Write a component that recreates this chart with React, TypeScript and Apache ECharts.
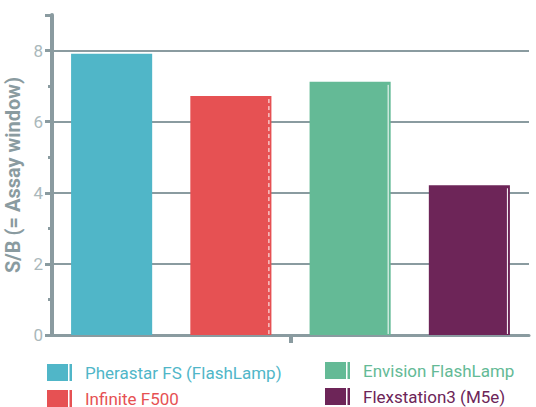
import React, { useEffect, useRef } from "react";
import * as echarts from "echarts";

const categories = [
  "Pherastar FS (FlashLamp)",
  "Infinite F500",
  "Envision FlashLamp",
  "Flexstation3 (M5e)",
];
const values = [7.91, 6.72, 7.12, 4.21];
const colors = ["#50b6c8", "#e65153", "#64ba96", "#6d2558"];
const yMax = 9;
const yInterval = 2;

const FONT = "Roboto, sans-serif";
const AXIS = "#8a9ba0";
const LABEL = "#aab8bb";
const ICON = "path://M0,0H21V17H0Z M22.5,0H25V17H22.5Z";
const legendPos = [
  { left: 47, top: 364 },
  { left: 47, top: 390 },
  { left: 325, top: 362 },
  { left: 325, top: 388 },
];

export default function App() {
  const ref = useRef<HTMLDivElement>(null);
  useEffect(() => {
    if (!ref.current) return;
    const chart = echarts.init(ref.current, undefined, { renderer: "svg" });
    const barSeries = categories.map((name, i) => ({
      type: "bar",
      name,
      stack: "all",
      barWidth: "68%",
      data: categories.map((_, j) => (j === i ? values[i] : null)),
      itemStyle: { color: colors[i] },
    }));
    chart.setOption({
      animation: false,
      grid: { left: 52, right: 7, top: 15, bottom: 72, containLabel: false, outerBoundsMode: "none" },
      legend: categories.map((name, i) => ({
        ...legendPos[i],
        orient: "horizontal",
        itemWidth: 25,
        itemHeight: 17,
        padding: 0,
        icon: ICON,
        data: [{ name, textStyle: { color: colors[i] } }],
        textStyle: { fontFamily: FONT, fontSize: 17, padding: [0, 0, 0, 8] },
      })),
      xAxis: [
        {
          type: "category",
          data: categories,
          axisLine: { show: true, lineStyle: { color: AXIS, width: 3 } },
          axisTick: { show: false },
          axisLabel: { show: false },
        },
        {
          type: "value",
          min: 0,
          max: 1,
          position: "bottom",
          axisLine: { show: false },
          axisTick: { show: true, customValues: [0.5], length: 8, lineStyle: { color: AXIS, width: 4 } },
          axisLabel: { show: false },
          splitLine: { show: false },
        },
      ],
      yAxis: [
        {
          type: "value",
          min: 0,
          max: yMax,
          interval: yInterval,
          name: "S/B (= Assay window)",
          nameLocation: "middle",
          nameGap: 24,
          nameTextStyle: { fontFamily: FONT, fontWeight: "bold", fontSize: 20, color: AXIS },
          axisLine: { show: true, lineStyle: { color: AXIS, width: 4 } },
          axisTick: { show: true, length: 7, lineStyle: { color: AXIS, width: 3 } },
          axisLabel: {
            fontFamily: FONT,
            fontSize: 17,
            color: LABEL,
            margin: 9,
            formatter: (v: number) => (v % yInterval === 0 ? String(v) : ""),
          },
          splitLine: { show: true, showMaxLine: false, lineStyle: { color: AXIS, width: 2 } },
        },
        {
          type: "value",
          min: 0,
          max: yMax,
          interval: 1,
          position: "left",
          axisLine: { show: false },
          axisTick: { show: true, length: 4, lineStyle: { color: AXIS, width: 3 } },
          axisLabel: { show: false },
          splitLine: { show: false },
        },
      ],
      series: [
        ...barSeries,
        {
          type: "custom",
          name: "marks",
          z: 5,
          data: values.map((v, i) => [i, v]).filter((d) => d[0] > 0),
          renderItem: (params: any, api: any) => {
            const x = api.value(0);
            const v = api.value(1);
            const top = api.coord([x, v]);
            const bottom = api.coord([x, 0]);
            const band = api.size([1, 0])[0];
            const lx = top[0] + (band * 0.68) / 2 - 2.5;
            return {
              type: "line",
              shape: { x1: lx, y1: top[1] + 3, x2: lx, y2: bottom[1] - 1 },
              style: { stroke: "#ffffff", lineWidth: 1, lineDash: x === 1 ? [4, 3] : null },
            };
          },
        },
      ],
    });
    return () => chart.dispose();
  }, []);
  return <div ref={ref} style={{ width: 536, height: 407, position: "absolute", left: 0, top: 0 }} />;
}
